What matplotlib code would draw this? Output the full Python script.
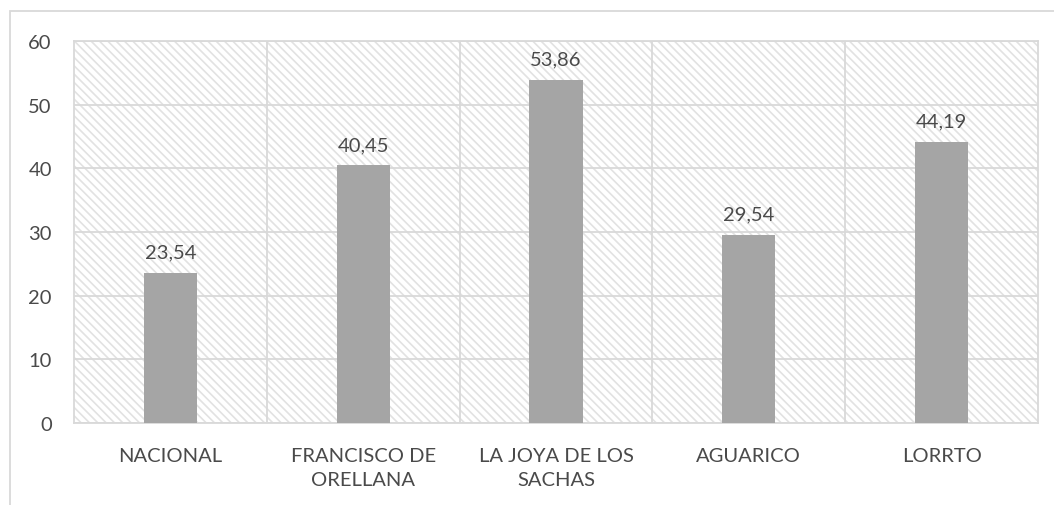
import matplotlib.pyplot as plt
from matplotlib.patches import Rectangle

categories = ['NACIONAL', 'FRANCISCO DE\nORELLANA', 'LA JOYA DE LOS\nSACHAS', 'AGUARICO', 'LORRTO']
values = [23.54, 40.45, 53.86, 29.54, 44.19]
y_ticks = [0, 10, 20, 30, 40, 50, 60]

text_color = '#4a4a4a'
grid_color = '#d9d9d9'
bar_color = '#a5a5a5'

plt.rcParams['font.family'] = ['Lato', 'DejaVu Sans']
plt.rcParams['hatch.linewidth'] = 1.2
plt.rcParams['hatch.color'] = '#e2e2e2'

W, H = 1054, 506
fig = plt.figure(figsize=(W / 100, H / 100), dpi=100)
ax = fig.add_axes([74 / W, (H - 424) / H, (1038 - 74) / W, (424 - 42) / H])

# outer chart border (clipped by the image on right and bottom)
fig.patches.append(Rectangle((10 / W, -0.5), 2, 1 - 12 / H + 0.5, transform=fig.transFigure,
                             fill=False, edgecolor=grid_color, linewidth=1.3))

# patterned plot-area background
ax.add_patch(Rectangle((0, 0), 1, 1, transform=ax.transAxes, facecolor='white',
                       hatch='\\\\\\\\', edgecolor='#e2e2e2', linewidth=0, zorder=0))

x = list(range(len(categories)))
ax.bar(x, values, width=0.275, color=bar_color, zorder=3)
for xi, v in zip(x, values):
    ax.annotate(f'{v:.2f}'.replace('.', ','), (xi, v), xytext=(0, 9), textcoords='offset points',
                ha='center', va='bottom', fontsize=14.5, color=text_color)

ax.set_xlim(-0.5, len(categories) - 0.5)
ax.set_ylim(0, 60)
ax.set_yticks(y_ticks)
ax.set_xticks(x)
ax.set_xticklabels(categories, linespacing=1.55)
ax.set_xticks([i + 0.5 for i in x[:-1]], minor=True)
ax.tick_params(axis='both', which='both', length=0, labelsize=14.5, colors=text_color)
ax.tick_params(axis='y', pad=16)
ax.tick_params(axis='x', pad=17)
ax.grid(axis='y', color=grid_color, linewidth=1.3, zorder=1)
ax.grid(axis='x', which='minor', color=grid_color, linewidth=1.3, zorder=1)
ax.grid(axis='x', which='major', visible=False)
ax.set_axisbelow(True)
for s in ax.spines.values():
    s.set_color(grid_color)
    s.set_linewidth(1.3)

fig.savefig('out.png', dpi=100)
